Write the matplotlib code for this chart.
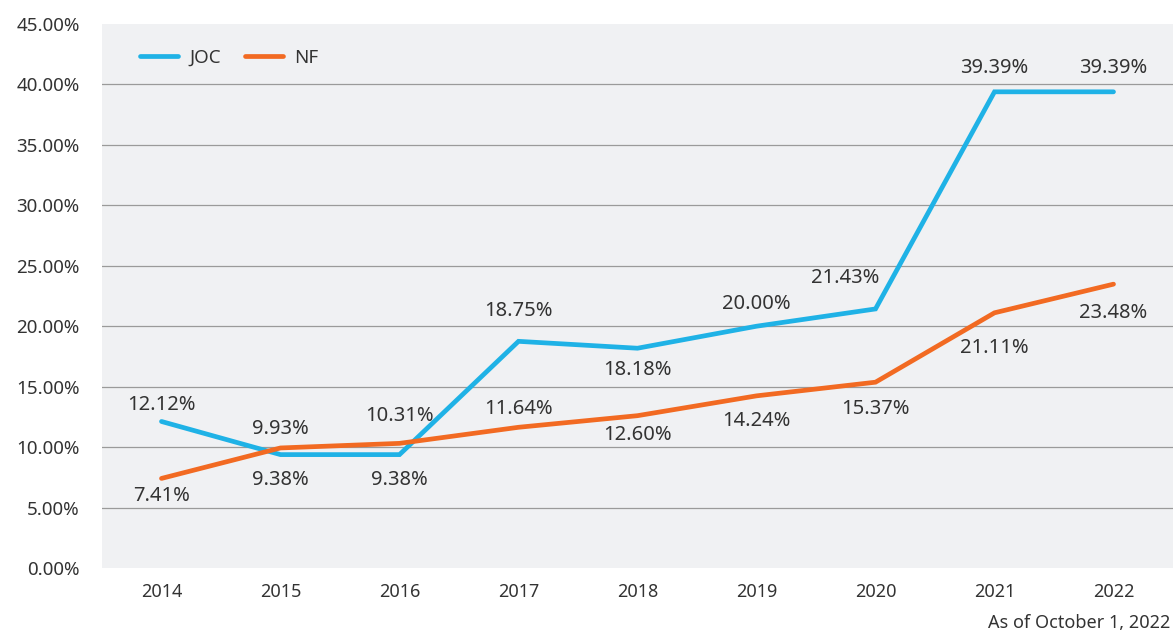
import matplotlib
matplotlib.use('Agg')
import matplotlib.pyplot as plt
from matplotlib.ticker import FuncFormatter

years = ['2014', '2015', '2016', '2017', '2018', '2019', '2020', '2021', '2022']
joc = [12.12, 9.38, 9.38, 18.75, 18.18, 20.00, 21.43, 39.39, 39.39]
nf = [7.41, 9.93, 10.31, 11.64, 12.60, 14.24, 15.37, 21.11, 23.48]

# label offsets in points (dx, dy); positive dy = above the line
joc_offsets = [(0, 12), (0, -18), (0, -18), (0, 22), (0, -16), (0, 16), (-22, 22), (0, 17), (0, 17)]
nf_offsets = [(0, -13), (0, 14), (0, 20), (0, 13), (0, -14), (0, -18), (0, -19), (0, -25), (0, -21)]

text_color = '#333333'
joc_color = '#1fb2e6'
nf_color = '#f26a22'

plt.rcParams['font.family'] = ['Noto Sans', 'DejaVu Sans']

fig = plt.figure(figsize=(11.73, 6.36), dpi=100)
ax = fig.add_axes([102 / 1173, 1 - 568 / 636, 1071 / 1173, 544 / 636])
ax.set_facecolor('#f0f1f3')

x = list(range(len(years)))
ax.plot(x, joc, color=joc_color, lw=3.4, solid_capstyle='round', solid_joinstyle='miter', label='JOC', zorder=3)
ax.plot(x, nf, color=nf_color, lw=3.4, solid_capstyle='round', solid_joinstyle='miter', label='NF', zorder=3)

for xi, v, off in zip(x, joc, joc_offsets):
    ax.annotate('{:.2f}%'.format(v), (xi, v), xytext=off, textcoords='offset points',
                ha='center', va='center', fontsize=14.5, color=text_color)
for xi, v, off in zip(x, nf, nf_offsets):
    ax.annotate('{:.2f}%'.format(v), (xi, v), xytext=off, textcoords='offset points',
                ha='center', va='center', fontsize=14.5, color=text_color)

ax.set_xlim(-0.5, len(years) - 0.5)
ax.set_ylim(0, 45)
ax.set_yticks(range(0, 46, 5))
ax.yaxis.set_major_formatter(FuncFormatter(lambda v, p: '{:.2f}%'.format(v)))
ax.set_xticks(x)
ax.set_xticklabels(years)
ax.grid(axis='y', color='#9a9a9a', lw=0.9)
ax.set_axisbelow(True)
# no grid line along the top and bottom edges
gl = ax.yaxis.get_gridlines()
gl[0].set_visible(False)
gl[-1].set_visible(False)
ax.tick_params(axis='y', length=0, pad=16, labelsize=13.5, labelcolor=text_color)
ax.tick_params(axis='x', length=0, pad=11, labelsize=13, labelcolor=text_color)
for s in ax.spines.values():
    s.set_visible(False)

leg = ax.legend(loc='upper left', bbox_to_anchor=(0.02, 0.985), ncol=2, frameon=False,
                fontsize=13.5, handlelength=2.0, columnspacing=1.3, handletextpad=0.6)
for t in leg.get_texts():
    t.set_color(text_color)

fig.text(1170 / 1173, 1 - 623 / 636, 'As of October 1, 2022', ha='right', va='center',
         fontsize=13, color=text_color)

fig.savefig('out.png', dpi=100)
